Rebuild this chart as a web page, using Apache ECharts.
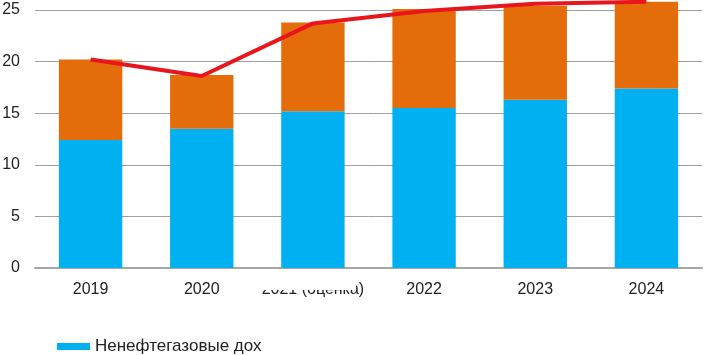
<!DOCTYPE html>
<html>
<head>
<meta charset="utf-8">
<script src="https://cdn.jsdelivr.net/npm/echarts@6/dist/echarts.min.js"></script>
<style>
  html, body { margin: 0; padding: 0; background: #fff; }
  #chart { width: 704px; height: 355px; }
</style>
</head>
<body>
<div id="chart"></div>
<script>
// данные
var years = ['2019', '2020', '2021 (оценка)', '2022', '2023', '2024'];
var nonOilGas = [12.4, 13.5, 15.2, 15.5, 16.3, 17.4];
var oilGas = [7.8, 5.2, 8.6, 9.6, 9.1, 8.4];
var totalLine = [20.2, 18.6, 23.7, 24.9, 25.6, 25.8];
var yTicks = { min: 0, max: 30, step: 5 };

var font = 'Arial, "Liberation Sans", sans-serif';
var chart = echarts.init(document.getElementById('chart'));

var option = {
  animation: false,
  textStyle: { fontFamily: font },
  grid: { left: 35, right: 2, top: -41.6, bottom: 87, containLabel: false, outerBoundsMode: 'none' },
  legend: {
    left: 52,
    top: 333,
    data: ['Ненефтегазовые доходы'],
    itemWidth: 33,
    itemHeight: 7,
    icon: 'rect',
    textStyle: { fontSize: 17, color: '#222', fontFamily: font }
  },
  xAxis: {
    type: 'category',
    data: years,
    axisTick: { show: false },
    axisLine: { lineStyle: { color: '#a6a6a6', width: 2 } },
    axisLabel: { fontSize: 16, color: '#222', margin: 14, interval: 0 }
  },
  yAxis: {
    type: 'value',
    min: yTicks.min,
    max: yTicks.max,
    interval: yTicks.step,
    axisLine: { show: false },
    axisTick: { show: false },
    axisLabel: { fontSize: 16, color: '#222', margin: 15 },
    splitLine: { lineStyle: { color: '#a0a0a0', width: 1 } }
  },
  series: [
    {
      name: 'Ненефтегазовые доходы',
      type: 'bar',
      stack: 'dohody',
      barWidth: '57%',
      itemStyle: { color: '#00b0f0' },
      data: nonOilGas
    },
    {
      name: 'Нефтегазовые доходы',
      type: 'bar',
      stack: 'dohody',
      barWidth: '57%',
      itemStyle: { color: '#e46c0a' },
      data: oilGas
    },
    {
      name: 'Доходы, всего',
      type: 'line',
      showSymbol: false,
      symbol: 'none',
      z: 5,
      lineStyle: { color: '#e8161c', width: 4 },
      data: totalLine
    }
  ],
  // белые заплатки, как на исходной картинке
  graphic: [
    { type: 'rect', z: 100, shape: { x: 258, y: 276, width: 98, height: 14 }, style: { fill: '#fff' } },
    { type: 'rect', z: 100, shape: { x: 262, y: 325, width: 442, height: 30 }, style: { fill: '#fff' } }
  ]
};

chart.setOption(option);
</script>
</body>
</html>
